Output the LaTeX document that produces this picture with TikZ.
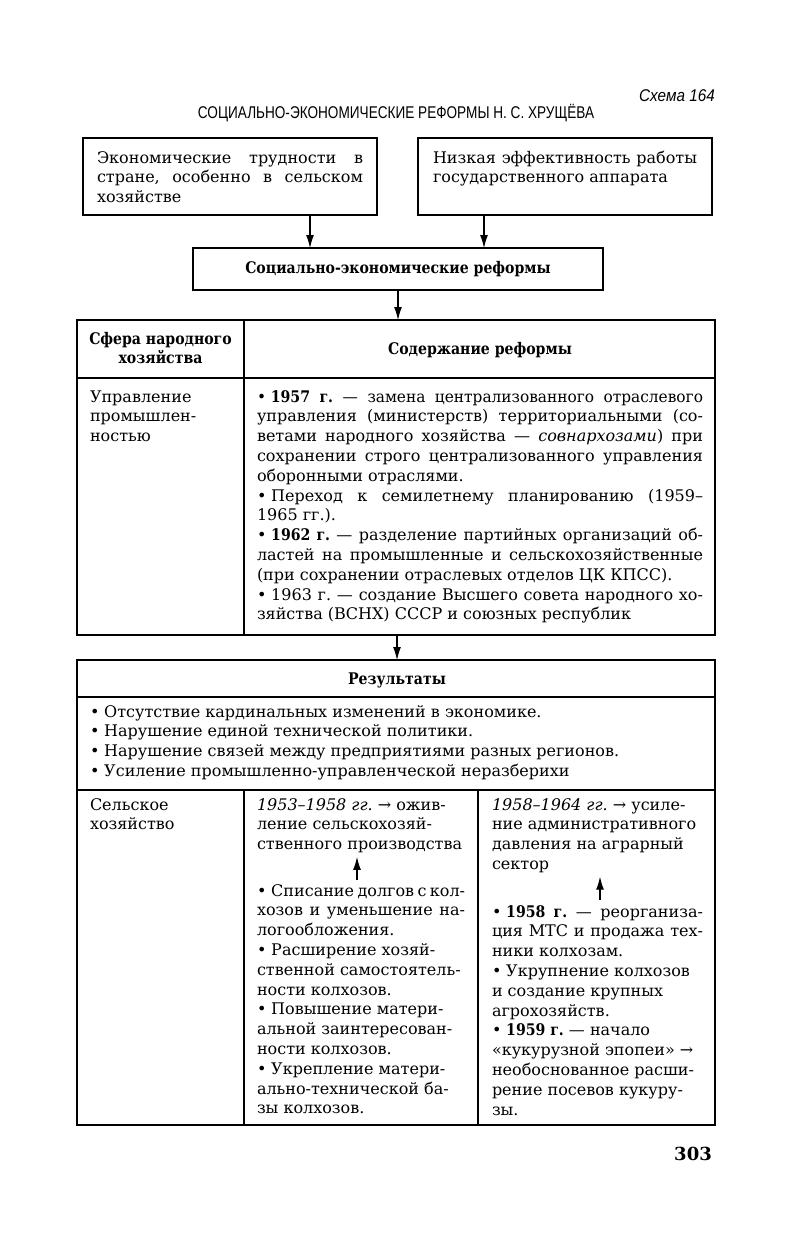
\documentclass[tikz,border=0pt]{standalone}
\usepackage{fontspec}
\setmainfont{DejaVu Serif}
\newfontfamily\titlefont[FakeStretch=0.8]{Liberation Sans}
\newfontfamily\schfont[FakeStretch=0.9]{Liberation Sans}
\newfontfamily\hdfont[FakeStretch=0.88]{DejaVu Serif}
\newfontfamily\sqfont[FakeStretch=0.96]{DejaVu Serif}
\usetikzlibrary{arrows.meta}
\frenchspacing
\newcommand\J[1]{\hbox to\hsize{#1}}
\newcommand\R[1]{\hbox to\hsize{#1\hfil}}
\newcommand\C[1]{\hbox to\hsize{\hfil#1\hfil}}
\newcommand\B{•\hskip0.3em\relax}
\newcommand\bd[1]{{\hdfont\bfseries #1}}
\newcommand\tb[2]{\vtop{\hsize=#1\baselineskip=19.8pt\lineskiplimit=-30pt\lineskip=0pt\relax #2}}
\newcommand\bodyfont{\fontsize{16}{19.8}\selectfont}
\newcommand\headfont{\fontsize{16}{19.8}\selectfont\hdfont\bfseries}
\tikzset{
  cell/.style={draw, line width=1.2pt, rectangle, inner sep=0pt, outer sep=0pt, anchor=north west},
  txt/.style={inner sep=0pt, outer sep=0pt, anchor=base west, font=\bodyfont},
  ctxt/.style={inner sep=0pt, outer sep=0pt, anchor=base, font=\headfont},
  arr/.style={-{Latex[length=13pt,width=8pt]}, line width=1.1pt},
}
\begin{document}
\begin{tikzpicture}[x=1pt, y=-1pt]
\fill[white] (0,0) rectangle (791,1245);
\useasboundingbox (0,0) rectangle (791,1245);

% heading
\node[inner sep=0pt, anchor=base east, font=\schfont\itshape\fontsize{17}{18}\selectfont] (schema) at (715,101) {Схема 164};
\node[inner sep=0pt, anchor=base, font=\titlefont\fontsize{17}{18}\selectfont] (title) at (396,118) {СОЦИАЛЬНО-ЭКОНОМИЧЕСКИЕ РЕФОРМЫ Н. С. ХРУЩЁВА};

% top boxes
\node[cell, minimum width=294pt, minimum height=77pt] (b1) at (83,138) {};
\node[cell, minimum width=294pt, minimum height=77pt] (b2) at (418,138) {};
\node[txt] (b1t) at (97,163) {\tb{266pt}{%
\J{Экономические трудности в}
\J{стране, особенно в сельском}
\R{хозяйстве}}};
\node[txt] (b2t) at (433,163) {\tb{264pt}{%
\J{Низкая эффективность работы}
\R{государственного аппарата}}};

\node[cell, minimum width=410pt, minimum height=42pt] (main) at (193,248) {};
\node[ctxt] (maint) at (398,273) {Социально-экономические реформы};

% table 1
\node[cell, minimum width=167pt, minimum height=58pt] (t1hl) at (77,320) {};
\node[cell, minimum width=471pt, minimum height=58pt] (t1hr) at (244,320) {};
\node[cell, minimum width=167pt, minimum height=257pt] (t1l) at (77,378) {};
\node[cell, minimum width=471pt, minimum height=257pt] (t1r) at (244,378) {};
\node[ctxt] (t1hlt) at (160.5,344) {\tb{160pt}{\C{Сфера народного}\C{хозяйства}}};
\node[ctxt] (t1hrt) at (480,354) {Содержание реформы};
\node[txt] (t1lt) at (90,402) {\tb{150pt}{%
\R{Управление}
\R{промышлен-}
\R{ностью}}};
\node[txt] (t1rt) at (257,402) {\tb{446pt}{%
\J{\sqfont\B\bd{1957 г.} — замена централизованного отраслевого}
\J{управления (министерств) территориальными (со-}
\J{ветами народного хозяйства — \textit{совнархозами}) при}
\J{сохранении строго централизованного управления}
\R{оборонными отраслями.}
\J{\B Переход к семилетнему планированию (1959–}
\R{1965 гг.).}
\J{\B\bd{1962 г.} — разделение партийных организаций об-}
\J{ластей на промышленные и сельскохозяйственные}
\R{(при сохранении отраслевых отделов ЦК КПСС).}
\J{\B 1963 г. — создание Высшего совета народного хо-}
\R{зяйства (ВСНХ) СССР и союзных республик}}};

% table 2
\node[cell, minimum width=638pt, minimum height=37pt] (t2h) at (77,660) {};
\node[cell, minimum width=638pt, minimum height=93pt] (t2b) at (77,697) {};
\node[cell, minimum width=167pt, minimum height=335pt] (t2l) at (77,790) {};
\node[cell, minimum width=234pt, minimum height=335pt] (t2m) at (244,790) {};
\node[cell, minimum width=237pt, minimum height=335pt] (t2r) at (478,790) {};
\node[ctxt] (t2ht) at (397,684) {Результаты};
\node[txt] (t2bt) at (90,717) {\tb{610pt}{%
\R{\B Отсутствие кардинальных изменений в экономике.}
\R{\B Нарушение единой технической политики.}
\R{\B Нарушение связей между предприятиями разных регионов.}
\R{\B Усиление промышленно-управленческой неразберихи}}};
\node[txt] (t2lt) at (90,810) {\tb{150pt}{%
\R{Сельское}
\R{хозяйство}}};
\node[txt] (m1) at (257,810) {\tb{208pt}{%
\R{\textit{1953–1958 гг.} → ожив-}
\R{ление сельскохозяй-}
\R{ственного производства}}};
\node[txt] (m2) at (257,896) {\tb{208pt}{%
\J{\B Списание долгов с кол-}
\J{хозов и уменьшение на-}
\R{логообложения.}
\R{\B Расширение хозяй-}
\R{ственной самостоятель-}
\R{ности колхозов.}
\R{\B Повышение матери-}
\R{альной заинтересован-}
\R{ности колхозов.}
\R{\B Укрепление матери-}
\R{ально-технической ба-}
\R{зы колхозов.}}};
\node[txt] (r1) at (492,810) {\tb{211pt}{%
\R{\textit{1958–1964 гг.} → усиле-}
\R{ние административного}
\R{давления на аграрный}
\R{сектор}}};
\node[txt] (r2) at (492,917) {\tb{211pt}{%
\J{\B\bd{1958 г.} — реорганиза-}
\J{ция МТС и продажа тех-}
\R{ники колхозам.}
\R{\B Укрупнение колхозов}
\R{и создание крупных}
\R{агрохозяйств.}
\R{\B\bd{1959 г.} — начало}
\R{«кукурузной эпопеи» →}
\R{необоснованное расши-}
\R{рение посевов кукуру-}
\R{зы.}}};

% page number
\node[inner sep=0pt, anchor=base east, font=\fontsize{18}{20}\selectfont\bfseries] (page) at (712,1160) {303};

% connectors
\coordinate (xa) at (310,0);
\coordinate (xb) at (484,0);
\coordinate (xc) at (398,0);
\coordinate (xd) at (397,0);
\coordinate (xm) at (357,0);
\coordinate (xr) at (600,0);
\draw[arr] (b1.south -| xa) -- (main.north -| xa);
\draw[arr] (b2.south -| xb) -- (main.north -| xb);
\draw[arr] (main.south -| xc) -- (t1hr.north -| xc);
\draw[arr] (t1r.south -| xd) -- (t2h.north -| xd);
\draw[arr] ([yshift=4pt]m2.north -| xm) -- ([yshift=-4pt]m1.south -| xm);
\draw[arr] ([yshift=5pt]r2.north -| xr) -- ([yshift=-4pt]r1.south -| xr);
\end{tikzpicture}
\end{document}
